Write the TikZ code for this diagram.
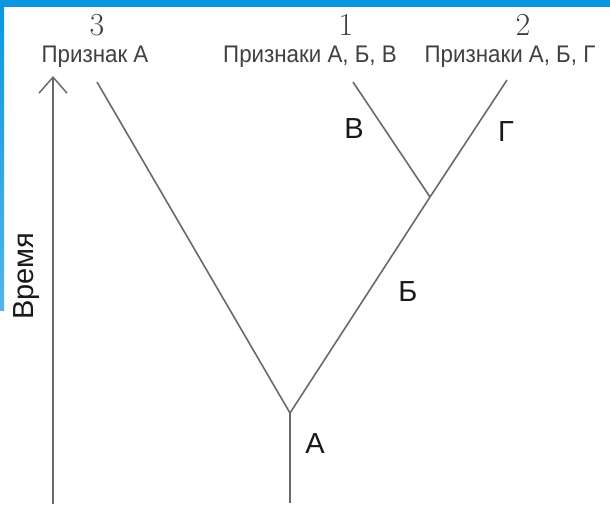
\documentclass[tikz,border=0pt]{standalone}
\usepackage{fontspec}
\setmainfont{Liberation Sans}
\newfontfamily\lmserif{Latin Modern Roman}
\usetikzlibrary{arrows.meta}
\definecolor{frameblue}{HTML}{0A96E0}
\definecolor{linegray}{HTML}{6A6A6A}
\definecolor{txtgray}{HTML}{404040}
\tikzset{
  branch/.style={draw=linegray, line width=1.6pt},
  biglabel/.style={inner sep=0pt, text=black!90, font=\fontsize{29}{31}\selectfont},
  toplabel/.style={inner sep=0pt, text=txtgray, font=\fontsize{24}{26}\selectfont},
  numlabel/.style={inner sep=0pt, text=txtgray, font=\lmserif\fontsize{32}{34}\selectfont},
}
\newcommand{\narrowtext}[1]{\scalebox{0.93}[1]{#1}}
\begin{document}
\begin{tikzpicture}[x=1pt,y=-1pt]
\useasboundingbox (0,0) rectangle (610,504);
\fill[white] (0,0) rectangle (610,504);
\fill[frameblue] (0,0) rectangle (610,7);
\shade[top color=frameblue, bottom color=frameblue!70] (0,0) rectangle (4,310);
% coordinates
\coordinate (root) at (290,413);
\coordinate (jB) at (430,197);
\coordinate (t3) at (97,82);
\coordinate (tB) at (353,82);
\coordinate (tG) at (507,80);
\coordinate (stem) at (290,503);
\coordinate (tBot) at (53,504);
\coordinate (tTop) at (53,76);
% tree
\draw[branch] (stem) -- (root);
\draw[branch] (root) -- (t3);
\draw[branch] (root) -- (jB);
\draw[branch] (jB) -- (tG);
\draw[branch] (jB) -- (tB);
% time axis
\draw[branch, -{Straight Barb[length=16pt,width=28pt,line width=1.5pt]}] (tBot) -- (tTop);
\node[biglabel, rotate=90] (time) at (27,276) {Время};
% labels
\node[biglabel] (lA) at (315,444) {А};
\node[biglabel] (lB) at (408,292) {Б};
\node[biglabel] (lV) at (354,129) {В};
\node[biglabel] (lG) at (506,132) {Г};
% top labels
\node[numlabel] (n3) at (97,25) {3};
\node[numlabel] (n1) at (346,25) {1};
\node[numlabel] (n2) at (523,25) {2};
\node[toplabel] (p3) at (95,57) {\narrowtext{Признак А}};
\node[toplabel] (p1) at (310,57) {\narrowtext{Признаки А, Б, В}};
\node[toplabel] (p2) at (510,57) {\narrowtext{Признаки А, Б, Г}};
\end{tikzpicture}
\end{document}
